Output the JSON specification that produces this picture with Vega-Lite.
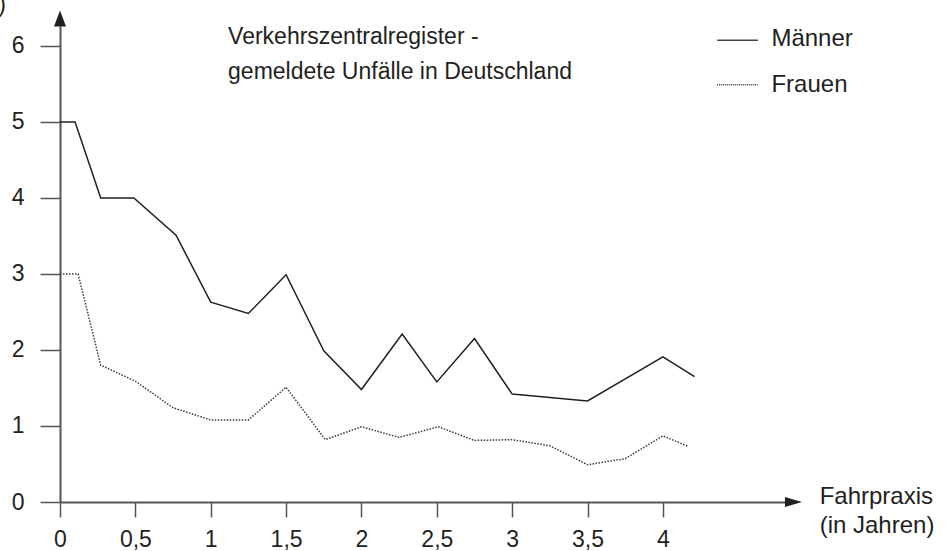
{
  "$schema": "https://vega.github.io/schema/vega-lite/v6.json",
  "width": 725,
  "height": 476,
  "autosize": {"type": "none"},
  "padding": {"left": 60, "top": 26, "right": 163, "bottom": 49},
  "background": "white",
  "config": {
    "view": {"stroke": null},
    "font": "Liberation Sans",
    "axis": {
      "grid": false,
      "domainColor": "#555555",
      "domainWidth": 2,
      "tickColor": "#555555",
      "tickWidth": 1.5,
      "labelFontSize": 23,
      "labelColor": "#231f20",
      "labelFont": "Liberation Sans",
      "labelOverlap": false,
      "labelFlush": false
    }
  },
  "datasets": {
    "unfaelle": [
      {"jahre": 0, "unfaelle": 5, "gruppe": "Männer"},
      {"jahre": 0.1, "unfaelle": 5, "gruppe": "Männer"},
      {"jahre": 0.27, "unfaelle": 4, "gruppe": "Männer"},
      {"jahre": 0.49, "unfaelle": 4, "gruppe": "Männer"},
      {"jahre": 0.77, "unfaelle": 3.51, "gruppe": "Männer"},
      {"jahre": 1.0, "unfaelle": 2.63, "gruppe": "Männer"},
      {"jahre": 1.25, "unfaelle": 2.48, "gruppe": "Männer"},
      {"jahre": 1.5, "unfaelle": 2.99, "gruppe": "Männer"},
      {"jahre": 1.75, "unfaelle": 1.99, "gruppe": "Männer"},
      {"jahre": 2.0, "unfaelle": 1.48, "gruppe": "Männer"},
      {"jahre": 2.27, "unfaelle": 2.21, "gruppe": "Männer"},
      {"jahre": 2.5, "unfaelle": 1.58, "gruppe": "Männer"},
      {"jahre": 2.75, "unfaelle": 2.15, "gruppe": "Männer"},
      {"jahre": 3.0, "unfaelle": 1.42, "gruppe": "Männer"},
      {"jahre": 3.5, "unfaelle": 1.33, "gruppe": "Männer"},
      {"jahre": 4.0, "unfaelle": 1.91, "gruppe": "Männer"},
      {"jahre": 4.21, "unfaelle": 1.65, "gruppe": "Männer"},
      {"jahre": 0, "unfaelle": 3, "gruppe": "Frauen"},
      {"jahre": 0.12, "unfaelle": 3, "gruppe": "Frauen"},
      {"jahre": 0.27, "unfaelle": 1.8, "gruppe": "Frauen"},
      {"jahre": 0.5, "unfaelle": 1.59, "gruppe": "Frauen"},
      {"jahre": 0.75, "unfaelle": 1.24, "gruppe": "Frauen"},
      {"jahre": 1.0, "unfaelle": 1.08, "gruppe": "Frauen"},
      {"jahre": 1.25, "unfaelle": 1.08, "gruppe": "Frauen"},
      {"jahre": 1.5, "unfaelle": 1.51, "gruppe": "Frauen"},
      {"jahre": 1.76, "unfaelle": 0.82, "gruppe": "Frauen"},
      {"jahre": 2.0, "unfaelle": 0.99, "gruppe": "Frauen"},
      {"jahre": 2.25, "unfaelle": 0.85, "gruppe": "Frauen"},
      {"jahre": 2.51, "unfaelle": 0.99, "gruppe": "Frauen"},
      {"jahre": 2.75, "unfaelle": 0.81, "gruppe": "Frauen"},
      {"jahre": 3.0, "unfaelle": 0.82, "gruppe": "Frauen"},
      {"jahre": 3.25, "unfaelle": 0.74, "gruppe": "Frauen"},
      {"jahre": 3.5, "unfaelle": 0.49, "gruppe": "Frauen"},
      {"jahre": 3.75, "unfaelle": 0.57, "gruppe": "Frauen"},
      {"jahre": 4.0, "unfaelle": 0.87, "gruppe": "Frauen"},
      {"jahre": 4.17, "unfaelle": 0.73, "gruppe": "Frauen"}
    ]
  },
  "layer": [
    {
      "data": {"name": "unfaelle"},
      "transform": [{"filter": "datum.gruppe === 'Männer'"}],
      "mark": {"type": "line", "color": "#231f20", "strokeWidth": 1.5, "clip": false},
      "encoding": {
        "x": {
          "field": "jahre", "type": "quantitative", "title": null,
          "scale": {"domain": [0, 4.81], "nice": false, "zero": false},
          "axis": {"values": [0, 0.5, 1, 1.5, 2, 2.5, 3, 3.5, 4], "tickSize": 15, "labelPadding": 11, "labelExpr": "replace(format(datum.value, '~g'), '.', ',')"}
        },
        "y": {
          "field": "unfaelle", "type": "quantitative", "title": null,
          "scale": {"domain": [0, 6.263], "nice": false, "zero": false},
          "axis": {"values": [0, 1, 2, 3, 4, 5, 6], "format": "d", "tickSize": 20, "labelPadding": 16}
        },
        "order": {"field": "jahre", "type": "quantitative"}
      }
    },
    {
      "data": {"name": "unfaelle"},
      "transform": [{"filter": "datum.gruppe === 'Frauen'"}],
      "mark": {"type": "line", "color": "#3a3a3a", "strokeWidth": 1.5, "strokeDash": [1.5, 1.5], "clip": false},
      "encoding": {
        "x": {"field": "jahre", "type": "quantitative", "title": null},
        "y": {"field": "unfaelle", "type": "quantitative", "title": null},
        "order": {"field": "jahre", "type": "quantitative"}
      }
    },
    {
      "data": {"values": [{}]},
      "mark": {"type": "point", "shape": "M0,-1L0.75,1L-0.75,1Z", "size": 256, "filled": true, "color": "#231f20", "opacity": 1, "strokeWidth": 0},
      "encoding": {
        "x": {"datum": 0, "type": "quantitative"},
        "y": {"datum": 6.362, "type": "quantitative"}
      }
    },
    {
      "data": {"values": [{}]},
      "mark": {"type": "point", "shape": "M1,0L-1,0.6L-1,-0.6Z", "size": 289, "filled": true, "color": "#231f20", "opacity": 1, "strokeWidth": 0},
      "encoding": {
        "x": {"datum": 4.866, "type": "quantitative"},
        "y": {"datum": 0, "type": "quantitative"}
      }
    },
    {
      "data": {"values": [{}]},
      "mark": {"type": "rule", "color": "#444444", "strokeWidth": 1.5},
      "encoding": {
        "x": {"datum": 4.36, "type": "quantitative"},
        "x2": {"datum": 4.63},
        "y": {"datum": 6.075, "type": "quantitative"}
      }
    },
    {
      "data": {"values": [{}]},
      "mark": {"type": "rule", "color": "#3a3a3a", "strokeWidth": 1.3, "strokeDash": [1, 1]},
      "encoding": {
        "x": {"datum": 4.36, "type": "quantitative"},
        "x2": {"datum": 4.63},
        "y": {"datum": 5.49, "type": "quantitative"}
      }
    },
    {
      "data": {"values": [{}]},
      "mark": {"type": "text", "text": "Männer", "align": "left", "baseline": "alphabetic", "fontSize": 24, "color": "#231f20", "font": "Liberation Sans"},
      "encoding": {
        "x": {"datum": 4.72, "type": "quantitative"},
        "y": {"datum": 6.0, "type": "quantitative"}
      }
    },
    {
      "data": {"values": [{}]},
      "mark": {"type": "text", "text": "Frauen", "align": "left", "baseline": "alphabetic", "fontSize": 24, "color": "#231f20", "font": "Liberation Sans"},
      "encoding": {
        "x": {"datum": 4.72, "type": "quantitative"},
        "y": {"datum": 5.39, "type": "quantitative"}
      }
    },
    {
      "data": {"values": [{}]},
      "mark": {"type": "text", "text": "Verkehrszentralregister -", "align": "left", "baseline": "alphabetic", "fontSize": 23, "color": "#231f20", "font": "Liberation Sans"},
      "encoding": {
        "x": {"datum": 1.115, "type": "quantitative"},
        "y": {"datum": 6.02, "type": "quantitative"}
      }
    },
    {
      "data": {"values": [{}]},
      "mark": {"type": "text", "text": "gemeldete Unfälle in Deutschland", "align": "left", "baseline": "alphabetic", "fontSize": 23, "color": "#231f20", "font": "Liberation Sans"},
      "encoding": {
        "x": {"datum": 1.115, "type": "quantitative"},
        "y": {"datum": 5.57, "type": "quantitative"}
      }
    },
    {
      "data": {"values": [{}]},
      "mark": {"type": "text", "text": "Fahrpraxis", "align": "left", "baseline": "alphabetic", "fontSize": 24, "color": "#231f20", "font": "Liberation Sans"},
      "encoding": {
        "x": {"datum": 5.04, "type": "quantitative"},
        "y": {"datum": -0.03, "type": "quantitative"}
      }
    },
    {
      "data": {"values": [{}]},
      "mark": {"type": "text", "text": "(in Jahren)", "align": "left", "baseline": "alphabetic", "fontSize": 24, "color": "#231f20", "font": "Liberation Sans"},
      "encoding": {
        "x": {"datum": 5.04, "type": "quantitative"},
        "y": {"datum": -0.41, "type": "quantitative"}
      }
    },
    {
      "data": {"values": [{}]},
      "mark": {"type": "text", "text": ")", "align": "left", "baseline": "alphabetic", "fontSize": 23, "color": "#231f20", "font": "Liberation Sans"},
      "encoding": {
        "x": {"datum": -0.41, "type": "quantitative"},
        "y": {"datum": 6.45, "type": "quantitative"}
      }
    }
  ]
}
